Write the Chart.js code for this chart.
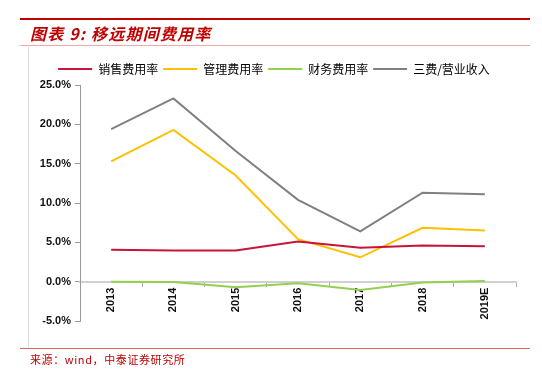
<!DOCTYPE html>
<html><head><meta charset="utf-8">
<script src="https://cdn.jsdelivr.net/npm/chart.js@4/dist/chart.umd.min.js"></script>
<style>
html,body{margin:0;padding:0;background:#fff;}
#wrap{position:relative;width:542px;height:376px;overflow:hidden;}
#c{position:absolute;left:0;top:0;}
.topline{position:absolute;left:20px;width:510px;top:18px;height:2px;background:#c00000;}
.subline{position:absolute;left:20px;width:510px;top:45px;height:1px;background:#f0a8a8;}
.footline{position:absolute;left:20px;width:510px;top:348px;height:1px;background:#e06666;}
.vline{position:absolute;left:28px;top:47px;width:1px;height:300px;background:#e0e0e0;}
#title{position:absolute;left:30px;top:21px;font:italic bold 16px "Noto Sans CJK SC",sans-serif;letter-spacing:1.2px;color:#c00000;white-space:nowrap;}
#src{position:absolute;left:30px;top:351px;font:11px "Noto Sans CJK SC",sans-serif;letter-spacing:0.6px;color:#c00000;white-space:nowrap;}
</style></head>
<body><div id="wrap">
<canvas id="c" width="542" height="376"></canvas>
<div class="topline"></div><div class="subline"></div><div class="vline"></div><div class="footline"></div>
<div id="title">图表 9:  移远期间费用率</div>
<div id="src">来源：wind，中泰证券研究所</div>
</div>
<script>
const categories = ["2013","2014","2015","2016","2017","2018","2019E"];
const seriesNames = ["销售费用率","管理费用率","财务费用率","三费/营业收入"];
const salesRate = [4.05, 3.97, 3.97, 5.1, 4.3, 4.6, 4.5];
const adminRate = [15.3, 19.3, 13.5, 5.4, 3.1, 6.85, 6.5];
const financeRate = [0.0, -0.05, -0.7, -0.2, -1.05, -0.1, 0.1];
const totalRate = [19.4, 23.3, 16.6, 10.4, 6.4, 11.3, 11.1];
const yTicks = [-5, 0, 5, 10, 15, 20, 25];
const colors = ["#c8143c", "#ffc000", "#92d050", "#808080"];
const values = [salesRate, adminRate, financeRate, totalRate];

const shiftLegend = {
  id: 'shiftLegend',
  afterLayout(chart) {
    const lg = chart.legend;
    if (lg) { lg.left += 16; lg.right += 16; }
  }
};

new Chart(document.getElementById('c'), {
  type: 'line',
  data: {
    labels: categories,
    datasets: values.map((v, i) => ({
      label: seriesNames[i], data: v, borderColor: colors[i], backgroundColor: colors[i],
      borderWidth: 2, pointRadius: 0, tension: 0, fill: false
    }))
  },
  options: {
    responsive: false, animation: false,
    layout: { padding: { top: 58, left: 0, right: 26, bottom: 55 } },
    plugins: {
      tooltip: { enabled: false },
      legend: {
        position: 'top', align: 'center',
        labels: {
          boxWidth: 34, boxHeight: 2, padding: 5, color: '#222',
          font: { family: '"Noto Sans CJK SC", sans-serif', size: 12 },
          generateLabels: (chart) => chart.data.datasets.map((d, i) => ({
            text: d.label, fillStyle: colors[i], strokeStyle: colors[i], lineWidth: 0, datasetIndex: i, hidden: false
          }))
        }
      }
    },
    scales: {
      x: {
        position: { y: 0 }, offset: true,
        grid: { drawOnChartArea: false, drawTicks: true, tickLength: 4, color: '#aaa', offset: true },
        border: { color: '#d0d0d0', width: 2 },
        ticks: { minRotation: 90, maxRotation: 90, padding: 2, color: '#111',
          font: { family: '"Liberation Sans", Arial, sans-serif', size: 11, weight: 'bold' } }
      },
      y: {
        min: -5, max: 25,
        afterFit: (s) => { s.width = 80; },
        afterBuildTicks: (s) => { s.ticks = yTicks.map(v => ({ value: v })); },
        grid: { drawOnChartArea: false, drawTicks: true, tickLength: 5, color: '#999' },
        border: { color: '#999', width: 1 },
        ticks: { padding: 4, color: '#111', callback: (v) => v.toFixed(1) + '%',
          font: { family: '"Liberation Sans", Arial, sans-serif', size: 11, weight: 'bold' } }
      }
    }
  },
  plugins: [shiftLegend]
});
</script>
</body></html>
